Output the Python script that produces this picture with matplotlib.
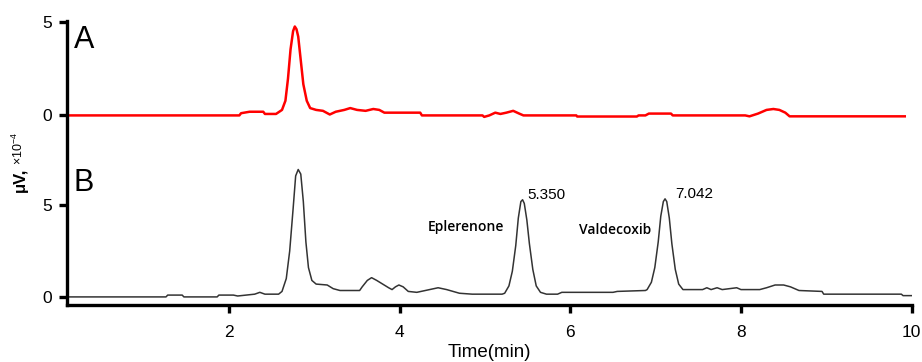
import matplotlib.pyplot as plt

plt.rcParams['font.family'] = ['Liberation Sans', 'DejaVu Sans']
plt.rcParams['mathtext.default'] = 'regular'

# trace A (red, upper), time in min and signal
t_a = [0.1, 2.12, 2.14, 2.24, 2.40, 2.42, 2.55, 2.62, 2.66, 2.69, 2.72, 2.75, 2.77,
       2.79, 2.81, 2.84, 2.87, 2.91, 2.95, 3.02, 3.10, 3.18, 3.25, 3.35, 3.42, 3.50,
       3.60, 3.69, 3.76, 3.82, 4.24, 4.26, 4.97, 4.99, 5.05, 5.12, 5.18, 5.25, 5.33,
       5.40, 5.45, 6.07, 6.08, 6.78, 6.80, 6.88, 6.92, 7.18, 7.20, 8.05, 8.10, 8.20,
       8.30, 8.38, 8.45, 8.52, 8.57, 9.92]
v_a = [0, 0, 0.12, 0.2, 0.2, 0.08, 0.08, 0.3, 0.8, 2.0, 3.6, 4.6, 4.85,
       4.7, 4.3, 3.0, 1.7, 0.8, 0.4, 0.3, 0.25, 0.05, 0.2, 0.3, 0.4, 0.3,
       0.25, 0.35, 0.3, 0.15, 0.15, 0.0, 0.0, -0.08, 0.0, 0.15, 0.08, 0.15, 0.25,
       0.1, 0.0, 0.0, -0.06, -0.06, 0.0, 0.0, 0.1, 0.1, 0.0, 0.0, -0.05, 0.1,
       0.3, 0.35, 0.3, 0.15, -0.05, -0.05]

# trace B (black, lower)
t_b = [0.1, 1.26, 1.28, 1.45, 1.47, 1.86, 1.88, 2.05, 2.10, 2.20, 2.30, 2.36, 2.42,
       2.58, 2.62, 2.67, 2.71, 2.75, 2.78, 2.81, 2.84, 2.87, 2.90, 2.93, 2.97, 3.02,
       3.15, 3.22, 3.30, 3.53, 3.56, 3.62, 3.67, 3.73, 3.80, 3.87, 3.91, 3.95, 3.99,
       4.04, 4.10, 4.20, 4.30, 4.45, 4.55, 4.70, 4.85, 5.00, 5.20,
       5.23, 5.28, 5.32, 5.36, 5.39, 5.42, 5.44, 5.46, 5.49, 5.52, 5.56, 5.60, 5.65,
       5.72, 5.85, 5.90, 6.50, 6.55, 6.88,
       6.90, 6.95, 6.99, 7.03, 7.06, 7.09, 7.11, 7.13, 7.16, 7.19, 7.23, 7.27, 7.32,
       7.55, 7.60, 7.65, 7.72, 7.78, 7.95, 8.00, 8.22, 8.30, 8.40, 8.50, 8.58, 8.68,
       8.95, 8.97, 9.88, 9.90, 10.0]
v_b = [0, 0, 0.1, 0.1, 0, 0, 0.1, 0.1, 0.05, 0.1, 0.15, 0.25, 0.15,
       0.15, 0.3, 1.0, 2.5, 4.8, 6.6, 6.95, 6.7, 5.2, 3.0, 1.6, 0.9, 0.7,
       0.65, 0.45, 0.35, 0.35, 0.55, 0.9, 1.05, 0.9, 0.7, 0.5, 0.4, 0.55, 0.65,
       0.55, 0.3, 0.25, 0.35, 0.5, 0.4, 0.2, 0.15, 0.15, 0.15,
       0.2, 0.6, 1.4, 2.8, 4.3, 5.2, 5.3, 5.1, 4.2, 2.9, 1.5, 0.6, 0.25,
       0.15, 0.15, 0.25, 0.25, 0.3, 0.35,
       0.4, 0.8, 1.6, 3.0, 4.4, 5.2, 5.35, 5.2, 4.3, 2.9, 1.5, 0.7, 0.4,
       0.4, 0.5, 0.4, 0.5, 0.4, 0.5, 0.4, 0.4, 0.5, 0.65, 0.65, 0.55, 0.35,
       0.3, 0.15, 0.15, 0.07, 0.07]

offset_a = 9.9
ytick_pos = [0, 5, offset_a, 15]
ytick_lbl = ['0', '5', '0', '5']
xtick_pos = [2, 4, 6, 8, 10]

fig = plt.figure(figsize=(9.22, 3.62), dpi=100)
ax = fig.add_axes([0.0727, 0.157, 0.916, 0.785])

ax.plot(t_a, [v + offset_a for v in v_a], color='red', lw=1.8)
ax.plot(t_b, v_b, color='#333333', lw=1.1)

ax.set_xlim(0.1, 10)
ax.set_ylim(-0.45, 15.05)
ax.set_xticks(xtick_pos)
ax.set_yticks(ytick_pos)
ax.set_yticklabels(ytick_lbl)

for s in ['top', 'right']:
    ax.spines[s].set_visible(False)
for s in ['left', 'bottom']:
    ax.spines[s].set_linewidth(2.4)
ax.tick_params(width=2.4, length=6, labelsize=12.5)
ax.tick_params(axis='x', pad=8)
ax.tick_params(axis='y', pad=5)

ax.set_xlabel('Time(min)', fontsize=13.5, labelpad=3)

# y label: "μV," larger, "×10⁻⁴" smaller above it
fig.text(0.022, 1 - 180 / 362, 'μV,', rotation=90, ha='center', va='center',
         fontsize=12, fontweight='bold')
fig.text(0.020, 1 - 148 / 362, '×10$^{-4}$', rotation=90, ha='center',
         va='center', fontsize=9)

ax.text(0.18, 14.0, 'A', fontsize=22, va='center')
ax.text(0.18, 6.2, 'B', fontsize=22, va='center')
ax.text(5.50, 5.55, '5.350', fontsize=11, va='center')
ax.text(7.23, 5.6, '7.042', fontsize=11, va='center')
ax.text(4.78, 3.8, 'Eplerenone', fontsize=10, ha='center', va='center',
        family=['Open Sans', 'DejaVu Sans'], fontweight='semibold')
ax.text(6.52, 3.65, 'Valdecoxib', fontsize=10, ha='center', va='center',
        family=['Open Sans', 'DejaVu Sans'], fontweight='semibold')

fig.savefig('out.png', dpi=100)
